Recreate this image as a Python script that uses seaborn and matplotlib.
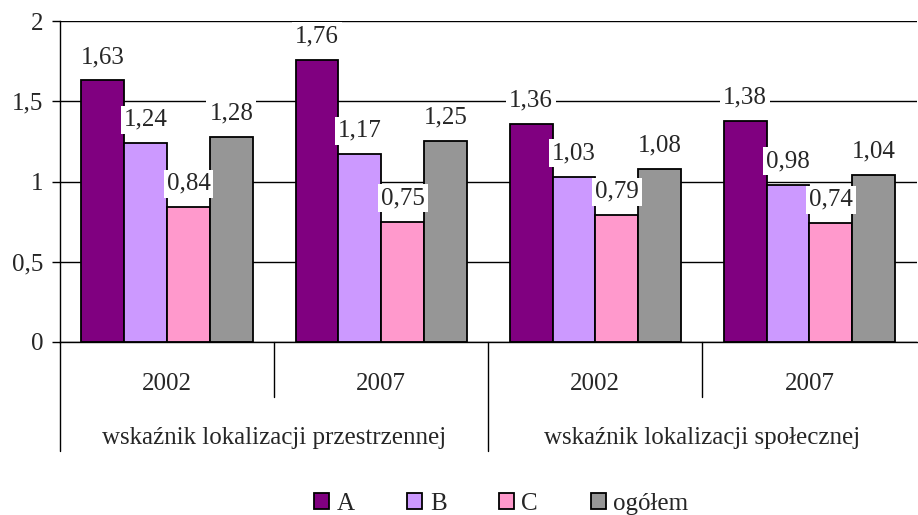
import numpy as np
import pandas as pd
import matplotlib
matplotlib.use("Agg")
import matplotlib.pyplot as plt
import matplotlib.transforms as mtransforms
import seaborn as sns

# data
groups = ["wskaźnik lokalizacji przestrzennej", "wskaźnik lokalizacji społecznej"]
years = ["2002", "2007", "2002", "2007"]
series = ["A", "B", "C", "ogółem"]
vals_A = [1.63, 1.76, 1.36, 1.38]
vals_B = [1.24, 1.17, 1.03, 0.98]
vals_C = [0.84, 0.75, 0.79, 0.74]
vals_total = [1.28, 1.25, 1.08, 1.04]
colors = ["#800080", "#CC99FF", "#FF99CC", "#969696"]

cats = [f"{groups[i // 2]} {years[i]}" for i in range(4)]
df = pd.DataFrame({
    "cat": cats * 4,
    "series": np.repeat(series, 4),
    "value": vals_A + vals_B + vals_C + vals_total,
})

sns.set_theme(style="white")
plt.rcParams["font.family"] = ["Liberation Serif", "DejaVu Serif"]
fs = 18

fig = plt.figure(figsize=(9.18, 5.15), dpi=100)
ax = fig.add_axes([0.0654, 0.336, 0.933, 0.623])

sns.barplot(data=df, x="cat", y="value", hue="series", order=cats,
            hue_order=series, palette=colors, edgecolor="black",
            linewidth=1.3, width=0.8, saturation=1, ax=ax, legend=True)

for cont in ax.containers:
    labs = [f"{b.get_height():.2f}".replace(".", ",") for b in cont]
    ax.bar_label(cont, labels=labs, padding=9, fontsize=fs,
                 bbox=dict(boxstyle="square,pad=0.12", facecolor="white",
                           edgecolor="none"))

ax.set_ylim(0, 2)
ax.set_xlim(-0.5, 3.5)
ax.set_yticks([0, 0.5, 1, 1.5, 2])
ax.set_yticklabels(["0", "0,5", "1", "1,5", "2"], fontsize=fs)
ax.set_xticks([])
ax.set_xlabel("")
ax.set_ylabel("")
ax.set_axisbelow(True)
ax.yaxis.grid(True, color="black", linewidth=1)
ax.tick_params(axis="y", left=True, length=6, width=1, color="black", pad=6)
for s in ["top", "right"]:
    ax.spines[s].set_visible(False)
for s in ["left", "bottom"]:
    ax.spines[s].set_color("black")
    ax.spines[s].set_linewidth(1)

# multi-level category axis
tr = mtransforms.blended_transform_factory(ax.transData, ax.transAxes)
for i, y in enumerate(years):
    ax.text(i, -0.13, y, transform=tr, ha="center", va="center", fontsize=fs)
for g, name in enumerate(groups):
    ax.text(2 * g + 0.5, -0.30, name, transform=tr, ha="center",
            va="center", fontsize=fs)
for xpos, depth in [(-0.5, -0.34), (0.5, -0.17), (1.5, -0.34), (2.5, -0.17)]:
    ax.plot([xpos, xpos], [0, depth], transform=tr, color="black",
            linewidth=1, clip_on=False)

handles, labels = ax.get_legend_handles_labels()
ax.get_legend().remove()
fig.legend(handles, labels, loc="center", bbox_to_anchor=(0.546, 0.022),
           ncol=4, frameon=False, fontsize=fs, handlelength=0.6,
           handleheight=0.6, handletextpad=0.3, columnspacing=2.1)

fig.savefig("out.png", dpi=100)
